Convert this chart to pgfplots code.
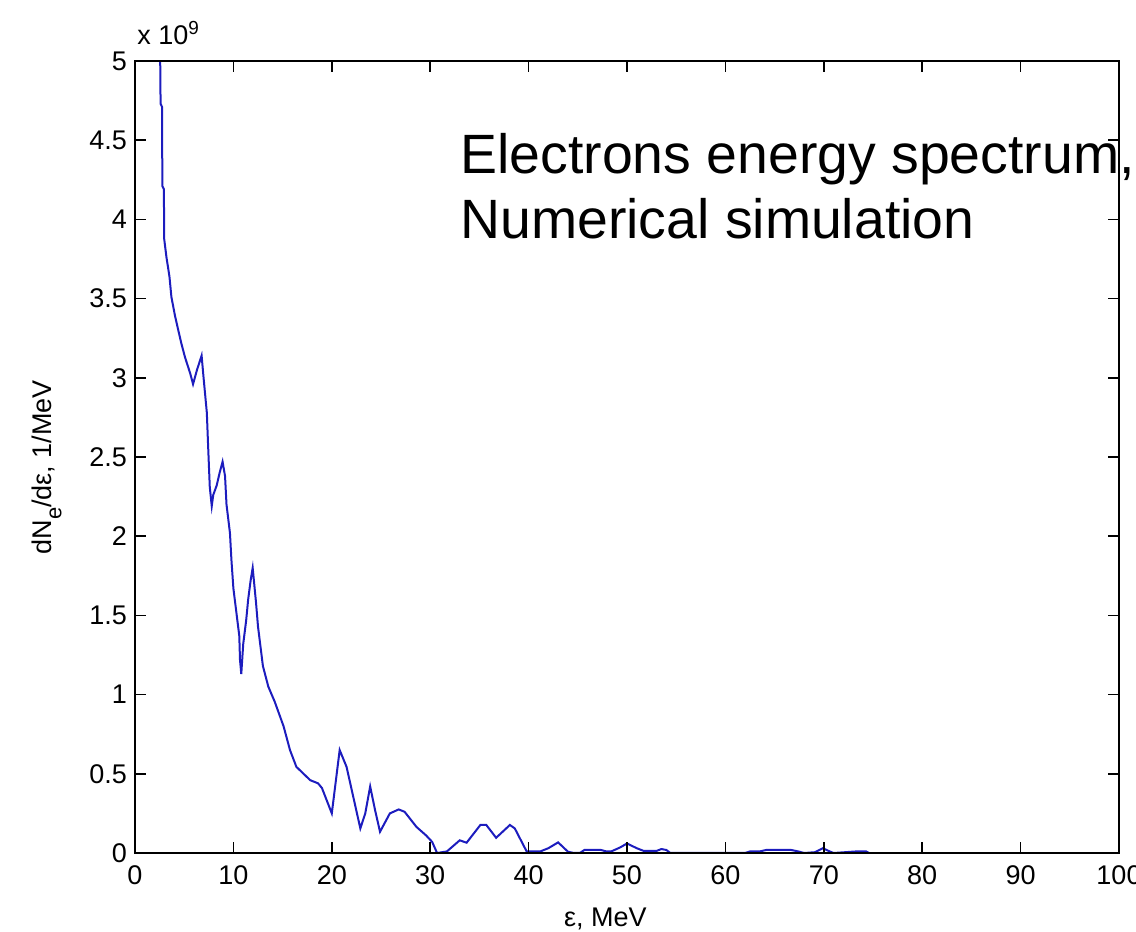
\documentclass[border=0pt]{standalone}
\usepackage{fontspec}
\setmainfont{Liberation Sans}
\usepackage{pgfplots}
\pgfplotsset{compat=1.18}

\definecolor{specblue}{RGB}{28,28,190}

\begin{document}
\begin{tikzpicture}
% electron energy spectrum, dN/de in units of 1e9 per MeV
\begin{axis}[
  at={(0,0)}, anchor=south west,
  scale only axis, width=492pt, height=396pt,
  xmin=0, xmax=100, ymin=0, ymax=5,
  xtick={0,10,20,30,40,50,60,70,80,90,100},
  ytick={0,0.5,1,1.5,2,2.5,3,3.5,4,4.5,5},
  yticklabels={0,0.5,1,1.5,2,2.5,3,3.5,4,4.5,5},
  tick align=inside, major tick length=5.5pt,
  axis line style={line width=0.75pt},
  every tick/.style={black, line width=0.75pt},
  tick label style={font=\fontsize{13.5}{15}\selectfont},
  /pgf/number format/assume math mode=true,
  xticklabel style={yshift=-3pt},
  yticklabel style={xshift=-0.5pt},
  xlabel={ε, MeV},
  xlabel style={at={(axis description cs:0.478,0)}, anchor=north, yshift=-24pt,
    font=\fontsize{13.5}{15}\selectfont},
  ylabel={dN\raisebox{-0.35em}{\fontsize{11}{12}\selectfont e}/dε, 1/MeV},
  ylabel style={at={(axis description cs:-0.0894,0.487)}, anchor=center,
    font=\fontsize{13.5}{15}\selectfont},
  axis on top,
  clip=true,
]
\addplot[specblue, line width=1pt] table[x=x, y=y] {
x y
2.52 5.30
2.60 4.73
2.75 4.71
2.78 4.21
2.94 4.19
2.96 3.88
3.20 3.76
3.50 3.64
3.70 3.51
4.07 3.39
4.40 3.30
4.70 3.22
5.08 3.13
5.60 3.03
5.90 2.96
6.30 3.05
6.77 3.14
6.94 3.02
7.30 2.78
7.45 2.54
7.60 2.31
7.80 2.19
7.95 2.26
8.30 2.32
8.60 2.40
8.90 2.47
9.15 2.38
9.30 2.20
9.65 2.02
9.80 1.85
10.00 1.67
10.30 1.52
10.60 1.37
10.67 1.22
10.80 1.13
11.00 1.32
11.30 1.47
11.50 1.60
11.75 1.72
11.96 1.80
12.10 1.71
12.30 1.58
12.50 1.43
12.80 1.28
13.00 1.18
13.55 1.05
14.20 0.955
15.10 0.80
15.75 0.65
16.40 0.544
17.80 0.46
18.60 0.44
19.00 0.41
20.00 0.25
20.80 0.65
21.50 0.544
22.90 0.155
23.40 0.25
23.90 0.42
24.40 0.27
24.90 0.134
25.90 0.25
26.80 0.275
27.40 0.26
28.60 0.165
29.60 0.11
30.20 0.07
30.70 0.0
31.70 0.01
33.00 0.08
33.70 0.065
35.10 0.177
35.70 0.177
36.70 0.096
38.10 0.177
38.60 0.155
39.80 0.01
41.20 0.01
42.00 0.03
43.00 0.067
44.00 0.008
44.60 0.0
45.20 0.0
45.70 0.02
47.30 0.02
47.90 0.01
48.40 0.01
49.30 0.035
50.00 0.06
51.00 0.03
51.70 0.013
53.00 0.013
53.50 0.025
54.00 0.019
54.40 0.0
62.00 0.0
62.50 0.01
63.50 0.01
64.20 0.02
66.60 0.02
67.40 0.01
68.00 0.0
69.10 0.005
69.90 0.03
70.60 0.01
71.00 0.0
73.30 0.01
74.30 0.01
74.60 0.0
};
\end{axis}
% exponent of the y scale, above the top-left corner
\node[anchor=base west, inner sep=0pt, font=\fontsize{13.5}{15}\selectfont]
  at (1pt,404pt) {x 10\textsuperscript{9}};
\node[anchor=base west, inner sep=0pt, font=\fontsize{27.7}{32}\selectfont]
  at (162.5pt,339.5pt) {Electrons energy spectrum,};
\node[anchor=base west, inner sep=0pt, font=\fontsize{27.7}{32}\selectfont]
  at (162.5pt,307pt) {Numerical simulation};
\pgfresetboundingbox
\path (-67.5pt,-39.5pt) rectangle (500.5pt,426.5pt);
\end{tikzpicture}
\end{document}
